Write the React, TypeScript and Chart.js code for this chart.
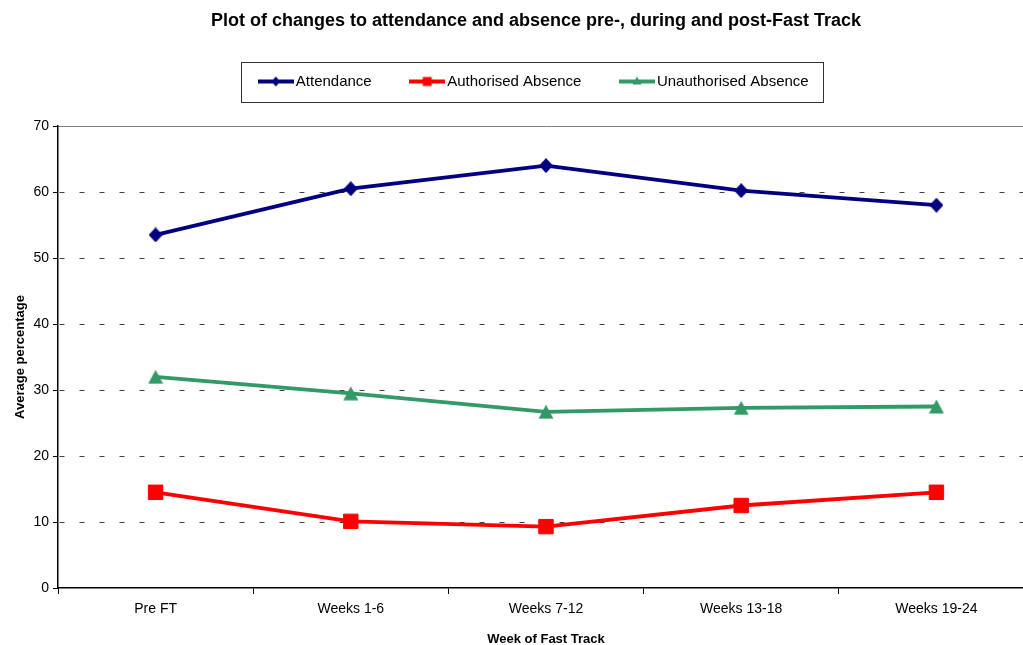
import React, { useEffect, useRef } from "react";
import { Chart, registerables } from "chart.js";

Chart.register(...registerables);

const TITLE = "Plot of changes to attendance and absence pre-, during and post-Fast Track";
const X_TITLE = "Week of Fast Track";
const Y_TITLE = "Average percentage";

const categories = ["Pre FT", "Weeks 1-6", "Weeks 7-12", "Weeks 13-18", "Weeks 19-24"];
const attendance = [53.5, 60.5, 64.0, 60.2, 58.0];
const authorisedAbsence = [14.5, 10.1, 9.3, 12.5, 14.5];
const unauthorisedAbsence = [32.0, 29.5, 26.7, 27.3, 27.5];
const seriesLabels = ["Attendance", "Authorised Absence", "Unauthorised Absence"];
const seriesColors = ["#000080", "#FF0000", "#339966"];
const yMin = 0;
const yMax = 70;
const yStep = 10;

const FONT = "'Liberation Sans', Arial, Helvetica, sans-serif";

function legendIcon(color: string, shape: string): HTMLCanvasElement {
  const c = document.createElement("canvas");
  c.width = 36;
  c.height = 14;
  const g = c.getContext("2d")!;
  g.strokeStyle = color;
  g.lineWidth = 4;
  g.beginPath();
  g.moveTo(0, 7);
  g.lineTo(36, 7);
  g.stroke();
  g.fillStyle = color;
  g.beginPath();
  if (shape === "diamond") {
    g.moveTo(18, 2);
    g.lineTo(22.5, 7);
    g.lineTo(18, 12);
    g.lineTo(13.5, 7);
  } else if (shape === "square") {
    g.rect(13.5, 2.5, 9, 9);
  } else {
    g.moveTo(18, 2);
    g.lineTo(22.5, 10);
    g.lineTo(13.5, 10);
  }
  g.closePath();
  g.fill();
  return c;
}

function markerImage(color: string, shape: string): HTMLCanvasElement {
  const c = document.createElement("canvas");
  if (shape === "diamond") {
    c.width = 14;
    c.height = 15;
  } else {
    c.width = 16;
    c.height = 15;
  }
  const g = c.getContext("2d")!;
  g.fillStyle = color;
  g.beginPath();
  if (shape === "diamond") {
    g.moveTo(7, 0);
    g.lineTo(14, 7.5);
    g.lineTo(7, 15);
    g.lineTo(0, 7.5);
  } else {
    g.moveTo(8, 0.5);
    g.lineTo(15.5, 14.5);
    g.lineTo(0.5, 14.5);
  }
  g.closePath();
  g.fill();
  return c;
}

const legendBoxPlugin = {
  id: "legendBox",
  afterDraw(chart: any) {
    const lg = chart.legend;
    const hb = lg && lg.legendHitBoxes;
    if (!hb || !hb.length) return;
    const first = hb[0];
    const last = hb[hb.length - 1];
    const x1 = Math.round(first.left - 22.5);
    const x2 = Math.round(last.left + last.width + 14);
    const cy = first.top + first.height / 2;
    const y1 = Math.round(cy - 20);
    const ctx = chart.ctx;
    ctx.save();
    ctx.strokeStyle = "#333333";
    ctx.lineWidth = 1;
    ctx.strokeRect(x1 + 0.5, y1 + 0.5, x2 - x1, 40);
    ctx.restore();
  },
};

export default function App() {
  const ref = useRef<HTMLCanvasElement | null>(null);

  useEffect(() => {
    if (!ref.current) return;
    const icons = [
      legendIcon(seriesColors[0], "diamond"),
      legendIcon(seriesColors[1], "square"),
      legendIcon(seriesColors[2], "triangle"),
    ];
    const diamond = markerImage(seriesColors[0], "diamond");
    const triangle = markerImage(seriesColors[2], "triangle");
    const chart = new Chart(ref.current, {
      type: "line",
      data: {
        labels: categories,
        datasets: [
          {
            label: seriesLabels[0],
            data: attendance,
            borderColor: seriesColors[0],
            backgroundColor: seriesColors[0],
            pointBackgroundColor: seriesColors[0],
            borderWidth: 3.8,
            pointStyle: diamond,
            pointRadius: 7,
            pointBorderWidth: 0,
            tension: 0,
          },
          {
            label: seriesLabels[1],
            data: authorisedAbsence,
            borderColor: seriesColors[1],
            backgroundColor: seriesColors[1],
            pointBackgroundColor: seriesColors[1],
            borderWidth: 3.8,
            pointStyle: "rect",
            pointRadius: 10.2,
            pointBorderWidth: 1,
            tension: 0,
          },
          {
            label: seriesLabels[2],
            data: unauthorisedAbsence,
            borderColor: seriesColors[2],
            backgroundColor: seriesColors[2],
            pointBackgroundColor: seriesColors[2],
            borderWidth: 3.8,
            pointStyle: triangle,
            pointRadius: 8,
            pointBorderWidth: 0,
            tension: 0,
          },
        ],
      },
      options: {
        responsive: false,
        animation: false,
        events: [],
        layout: { padding: { left: 0, right: 0, top: 0, bottom: 0 } },
        plugins: {
          title: {
            display: true,
            text: TITLE,
            color: "#000",
            font: { family: FONT, size: 18, weight: "bold", lineHeight: 1 },
            padding: { top: 12.5, bottom: 0.5 },
          },
          legend: {
            display: true,
            position: "top",
            weight: 1800,
            labels: {
              usePointStyle: true,
              pointStyleWidth: 25,
              boxHeight: 15,
              padding: 43,
              color: "#000",
              font: { family: FONT, size: 15 },
              generateLabels: (ch: any) => {
                const items = (Chart.defaults.plugins.legend.labels as any).generateLabels(ch);
                return items.map((it: any, i: number) => ({
                  ...it,
                  pointStyle: icons[i],
                  lineWidth: 0,
                  fontColor: "#000",
                }));
              },
            },
          } as any,
          subtitle: {
            display: true,
            text: "",
            weight: 1000,
            font: { family: FONT, size: 1, lineHeight: 1 },
            padding: { top: 0, bottom: 26 },
          } as any,
          tooltip: { enabled: false },
        },
        scales: {
          x: {
            type: "category",
            offset: true,
            grid: {
              display: true,
              drawOnChartArea: false,
              drawTicks: true,
              tickLength: 6,
              offset: true,
              tickColor: "#000",
              tickWidth: 1,
            },
            border: { display: true, color: "#000", width: 1.5 },
            ticks: {
              color: "#000",
              font: { family: FONT, size: 14 },
              padding: 7,
              maxRotation: 0,
              autoSkip: false,
            },
            title: {
              display: true,
              text: X_TITLE,
              color: "#000",
              font: { family: FONT, size: 13, weight: "bold", lineHeight: 1 },
              padding: { top: 0, bottom: -1 },
            },
            afterFit: (s: any) => {
              s.height = 57;
            },
          },
          y: {
            position: "left",
            min: yMin,
            max: yMax,
            ticks: {
              stepSize: yStep,
              color: "#000",
              font: { family: FONT, size: 14 },
              padding: 4,
            },
            grid: {
              color: (c: any) =>
                c.tick && c.tick.value === yMax
                  ? "#808080"
                  : c.tick && c.tick.value === yMin
                  ? "rgba(0,0,0,0)"
                  : "#404040",
              lineWidth: 1,
              drawTicks: true,
              tickLength: 5,
              tickColor: "#000",
              tickWidth: 1,
            },
            border: {
              display: true,
              color: "#000",
              width: 1.5,
              dash: (c: any) => (c.tick && c.tick.value === yMax ? [] : [5, 15]),
              dashOffset: -1,
            } as any,
            title: {
              display: true,
              text: Y_TITLE,
              color: "#000",
              font: { family: FONT, size: 13, weight: "bold", lineHeight: 1 },
              padding: { top: 14, bottom: 0 },
            },
            afterFit: (s: any) => {
              s.width = 58;
            },
          },
          yRight: {
            type: "linear",
            position: "right",
            display: true,
            grid: { display: false, drawOnChartArea: false },
            border: { display: false },
            ticks: { display: false },
            afterFit: (s: any) => {
              s.width = 38;
            },
          },
        },
      } as any,
      plugins: [legendBoxPlugin],
    });
    return () => chart.destroy();
  }, []);

  return (
    <div
      style={{
        position: "fixed",
        left: 0,
        top: 0,
        width: 1023,
        height: 645,
        overflow: "hidden",
        background: "#fff",
      }}
    >
      <canvas
        ref={ref}
        width={1072}
        height={645}
        style={{ display: "block", width: 1072, height: 645 }}
      />
    </div>
  );
}
